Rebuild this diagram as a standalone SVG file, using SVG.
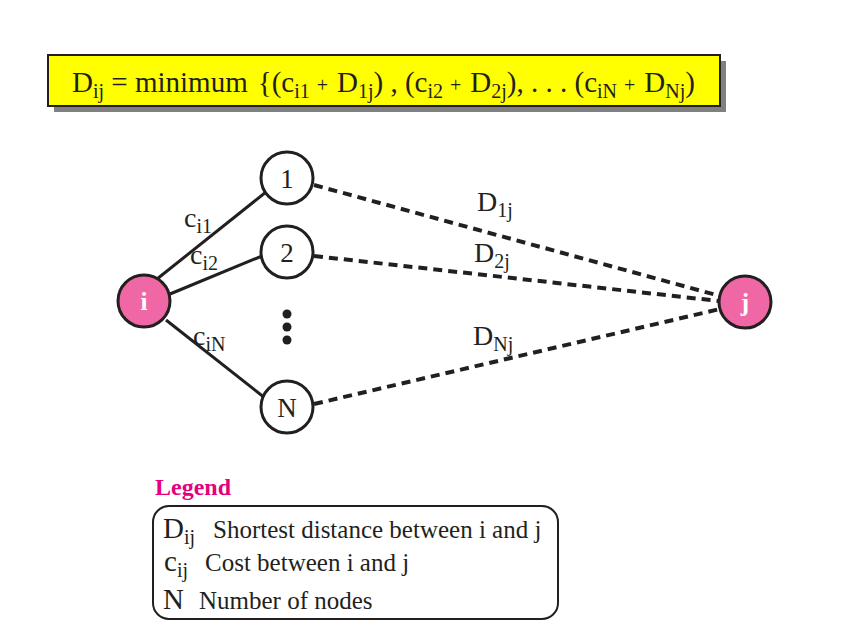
<svg xmlns="http://www.w3.org/2000/svg" width="848" height="632" viewBox="0 0 848 632">
<style>
text{font-family:"Liberation Serif","Times New Roman",serif;fill:#231f20}
.sub{font-size:20px}
.node{fill:#fff;stroke:#231f20;stroke-width:3}
.pink{fill:#ef67a4;stroke:#231f20;stroke-width:3}
.lbl{font-size:28px}
.solid{stroke:#231f20;stroke-width:3;fill:none}
.dash{stroke:#231f20;stroke-width:4;fill:none;stroke-dasharray:9 6}
</style>
<rect width="848" height="632" fill="#fff"/>
<g id="formula">
<rect x="54" y="61" width="672" height="51" fill="#808080"/>
<rect x="48" y="55" width="672" height="51" fill="#ffff00" stroke="#231f20" stroke-width="2"/>
<text x="72" y="92" font-size="29">D<tspan class="sub" dy="6">ij</tspan><tspan dy="-6"> = minimum</tspan><tspan dx="10">{(c</tspan><tspan class="sub" dy="6">i1</tspan><tspan font-size="20" dy="-6" dx="7">+</tspan><tspan dx="9">D</tspan><tspan class="sub" dy="6">1j</tspan><tspan dy="-6">) , (c</tspan><tspan class="sub" dy="6">i2</tspan><tspan font-size="20" dy="-6" dx="7">+</tspan><tspan dx="9">D</tspan><tspan class="sub" dy="6">2j</tspan><tspan dy="-6">), . . . (c</tspan><tspan class="sub" dy="6">iN</tspan><tspan font-size="20" dy="-6" dx="7">+</tspan><tspan dx="9">D</tspan><tspan class="sub" dy="6">Nj</tspan><tspan dy="-6">)</tspan></text>
</g>
<g id="connectors">
<line class="solid" x1="157" y1="279" x2="266" y2="192"/>
<line class="solid" x1="170" y1="294" x2="262" y2="256"/>
<line class="solid" x1="166" y1="320" x2="265" y2="398"/>
<line class="dash" x1="314" y1="185" x2="720" y2="296"/>
<line class="dash" x1="314" y1="256" x2="719" y2="301"/>
<line class="dash" x1="314" y1="404" x2="720" y2="309"/>
<text x="184" y="227" class="lbl">c<tspan class="sub" dy="6">i1</tspan></text>
<text x="190" y="264" class="lbl">c<tspan class="sub" dy="6">i2</tspan></text>
<text x="193" y="345" class="lbl">c<tspan class="sub" dy="6">iN</tspan></text>
<text x="477" y="211" class="lbl">D<tspan class="sub" dy="6">1j</tspan></text>
<text x="474" y="262" class="lbl">D<tspan class="sub" dy="6">2j</tspan></text>
<text x="473" y="345" class="lbl">D<tspan class="sub" dy="6">Nj</tspan></text>
</g>
<g id="node-i">
<circle class="pink" cx="144" cy="301" r="26"/>
<text x="144" y="310" font-size="25" font-weight="bold" text-anchor="middle" style="fill:#fff">i</text>
</g>
<g id="node-1">
<circle class="node" cx="287" cy="178" r="26"/>
<text x="287" y="188" font-size="27" text-anchor="middle">1</text>
</g>
<g id="node-2">
<circle class="node" cx="287" cy="252" r="26"/>
<text x="287" y="262" font-size="27" text-anchor="middle">2</text>
</g>
<g id="dots">
<circle cx="287" cy="314" r="4.5" fill="#231f20"/>
<circle cx="287" cy="327" r="4.5" fill="#231f20"/>
<circle cx="287" cy="340" r="4.5" fill="#231f20"/>
</g>
<g id="node-N">
<circle class="node" cx="287" cy="407" r="26"/>
<text x="287" y="417" font-size="27" text-anchor="middle">N</text>
</g>
<g id="node-j">
<circle class="pink" cx="745" cy="302" r="26"/>
<text x="745" y="311" font-size="25" font-weight="bold" text-anchor="middle" style="fill:#fff">j</text>
</g>
<g id="legend">
<text x="155" y="495" font-size="24" font-weight="bold" style="fill:#e6007e">Legend</text>
<rect x="153" y="506" width="405" height="113" rx="16" fill="#fff" stroke="#231f20" stroke-width="2"/>
<text x="163" y="538" font-size="29">D<tspan class="sub" dy="6">ij</tspan></text>
<text x="213" y="538" font-size="25">Shortest distance between i and j</text>
<text x="164" y="571" font-size="29">c<tspan class="sub" dy="6">ij</tspan></text>
<text x="205" y="571" font-size="25">Cost between i and j</text>
<text x="163" y="609" font-size="29">N</text>
<text x="199" y="609" font-size="25">Number of nodes</text>
</g>
</svg>
